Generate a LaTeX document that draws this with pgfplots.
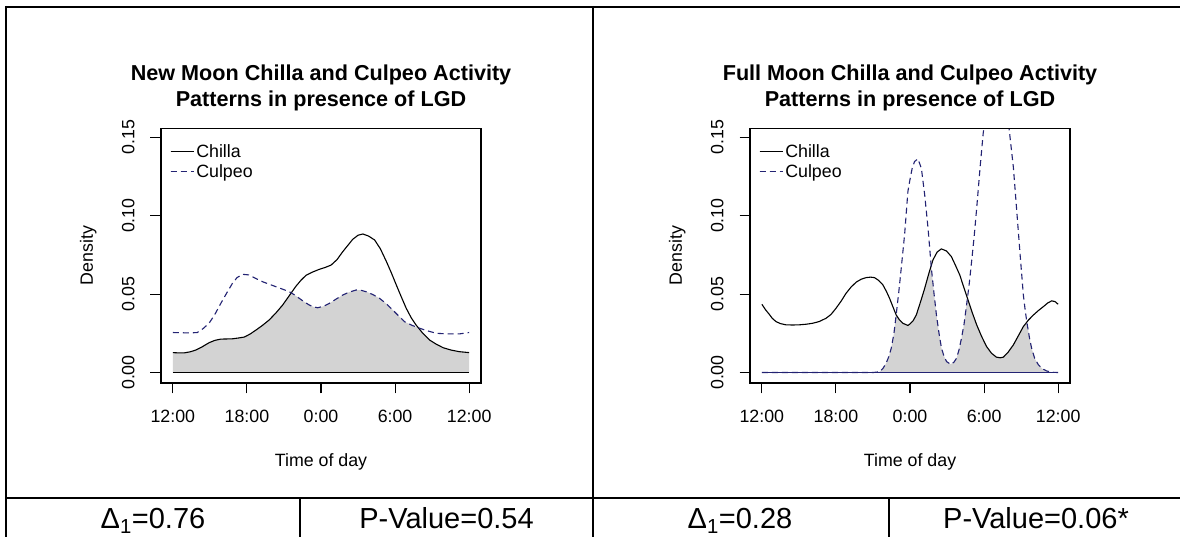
\documentclass[border=0pt]{standalone}
\usepackage{pgfplots}
\pgfplotsset{compat=1.18}
\usepackage{fontspec}
\setmainfont{Liberation Sans}
\definecolor{culpeo}{RGB}{35,35,115}
\definecolor{olap}{RGB}{211,211,211}
\newcommand{\basefont}{\fontsize{17.8}{21}\selectfont}
\newcommand{\titlefont}{\fontsize{21.6}{26.3}\selectfont\bfseries}
\newcommand{\cellfont}{\fontsize{29}{34}\selectfont}
\tikzset{axisticks/.style={draw=black, line width=1.1pt}}

\pgfplotsset{
  moonaxis/.style={
    scale only axis, width=320pt, height=254.5pt,
    anchor=south west, clip mode=individual, axis on top,
    xmin=-0.96, xmax=24.96, ymin=-0.0066, ymax=0.1556,
    xtick={0,6,12,18,24}, xticklabels={12:00,18:00,0:00,6:00,12:00},
    ytick={0,0.05,0.1,0.15}, yticklabels={0.00,0.05,0.10,0.15},
    minor tick num=0,
    tick align=outside, xtick pos=bottom, ytick pos=left,
    major tick length=10.5pt,
    every tick/.style={draw=black, line width=1.1pt},
    axis line style={line width=1.3pt, black},
    ticklabel style={font=\basefont},
    xticklabel style={anchor=north, inner sep=0pt},
    yticklabel style={rotate=90, anchor=south, inner sep=0pt},
    xticklabel shift=16.6pt, yticklabel shift=15.8pt,
    xlabel={Time of day}, ylabel={Density},
    label style={font=\basefont, inner sep=0pt},
    xlabel style={at={(axis description cs:0.5,-0.330)}, anchor=base},
    ylabel style={at={(axis description cs:-0.2128,0.5)}, anchor=base},
    title style={align=center, font=\titlefont, at={(axis description cs:0.5,1.0428)}, anchor=south, inner sep=0pt},
    legend style={at={(axis description cs:0.028,0.945)}, anchor=north west, draw=none, fill=none, font=\basefont, inner sep=0pt, row sep=1.5pt},
    legend cell align=left,
    legend image code/.code={\draw[##1] (0pt,0pt) -- (17pt,0pt); \path (0pt,0pt) -- (23pt,0pt);},
    chilla/.style={black, line width=1.1pt},
    culpeoline/.style={culpeo, line width=1.1pt, dash pattern=on 6pt off 4pt},
  }
}
% tick marks along the axis frame (outside, below and left)
\newcommand{\rticks}{%
  \pgfplotsinvokeforeach{0,6,12,18,24}{\draw[axisticks] (axis cs:##1,-0.0066) -- ++(0pt,-10.5pt);}%
  \pgfplotsinvokeforeach{0,0.05,0.1,0.15}{\draw[axisticks] (axis cs:-0.96,##1) -- ++(-10.5pt,0pt);}%
}

\begin{document}
\begin{tikzpicture}
\useasboundingbox (0pt,0pt) rectangle (1180pt,537pt);
\fill[white] (0pt,0pt) rectangle (1180pt,537pt);

% ---------------- New Moon ----------------
\begin{axis}[moonaxis, at={(161pt,154.1pt)},
  title={New Moon Chilla and Culpeo Activity\\Patterns in presence of LGD}]
\addplot[draw=none, fill=olap, forget plot] coordinates {
(0,0) (0,0.0127) (0.5,0.0125) (0.9,0.0125) (1.4,0.0132) (1.85,0.0143) (2.4,0.0165) (2.93,0.019) (3.4,0.0205) (3.88,0.0213) (4.83,0.0215) (5.3,0.022) (5.78,0.0226) (6.25,0.0245) (6.72,0.027) (7.25,0.030) (7.8,0.0335) (8.35,0.038) (8.89,0.043) (9.43,0.049) (9.6,0.0508) (9.85,0.0495) (10.24,0.0473) (10.65,0.045) (11.06,0.043) (11.4,0.0418) (11.73,0.0413) (12.2,0.0422) (12.68,0.0441) (13.2,0.0467) (13.76,0.0494) (14.3,0.0513) (14.85,0.0526) (15.25,0.0524) (15.66,0.0515) (16.2,0.0497) (16.74,0.0473) (17.3,0.0438) (17.82,0.0398) (18.3,0.036) (18.77,0.0324) (19.4,0.030) (19.9,0.0284) (20.25,0.025) (20.8,0.0207) (21.35,0.018) (21.9,0.0158) (22.55,0.0143) (23.2,0.0133) (24,0.0127) (24,0)
} \closedcycle;
\addplot[black, line width=1pt, forget plot] coordinates {(0,0) (24,0)};
\addplot[chilla] coordinates {
(0,0.0127) (0.5,0.0125) (0.9,0.0125) (1.4,0.0132) (1.85,0.0143) (2.4,0.0165) (2.93,0.019) (3.4,0.0205) (3.88,0.0213) (4.83,0.0215) (5.3,0.022) (5.78,0.0226) (6.25,0.0245) (6.72,0.027) (7.25,0.030) (7.8,0.0335) (8.35,0.038) (8.89,0.043) (9.43,0.049) (9.97,0.055) (10.4,0.059) (10.79,0.062) (11.3,0.064) (11.87,0.0658) (12.35,0.067) (12.82,0.0685) (13.3,0.072) (13.76,0.077) (14.17,0.081) (14.57,0.0849) (15.0,0.0875) (15.39,0.0883) (15.85,0.087) (16.34,0.0845) (16.8,0.079) (17.3,0.0707) (17.7,0.0635) (18.1,0.0558) (18.5,0.0483) (18.9,0.041) (19.3,0.035) (19.7,0.0303) (20.25,0.025) (20.8,0.0207) (21.35,0.018) (21.9,0.0158) (22.55,0.0143) (23.2,0.0133) (24,0.0127)
};
\addlegendentry{Chilla}
\addplot[culpeoline] coordinates {
(0,0.0255) (0.5,0.0254) (1,0.0253) (1.5,0.0253) (1.98,0.0255) (2.45,0.028) (2.93,0.0314) (3.4,0.037) (3.88,0.044) (4.35,0.0505) (4.83,0.0569) (5.2,0.0605) (5.64,0.0626) (6.18,0.0622) (6.7,0.060) (7.26,0.0579) (7.8,0.0563) (8.35,0.0547) (8.9,0.0531) (9.43,0.0515) (9.85,0.0495) (10.24,0.0473) (10.65,0.045) (11.06,0.043) (11.4,0.0418) (11.73,0.0413) (12.2,0.0422) (12.68,0.0441) (13.2,0.0467) (13.76,0.0494) (14.3,0.0513) (14.85,0.0526) (15.25,0.0524) (15.66,0.0515) (16.2,0.0497) (16.74,0.0473) (17.3,0.0438) (17.82,0.0398) (18.3,0.036) (18.77,0.0324) (19.4,0.030) (19.99,0.0282) (20.7,0.0264) (21.35,0.025) (22.3,0.0246) (23.2,0.0246) (24,0.0255)
};
\addlegendentry{Culpeo}
\rticks
\end{axis}

% ---------------- Full Moon ----------------
\begin{axis}[moonaxis, at={(750pt,154.1pt)},
  title={Full Moon Chilla and Culpeo Activity\\Patterns in presence of LGD}]
\addplot[draw=none, fill=olap, forget plot] coordinates {
(0,0) (9.0,0) (9.53,0.0005) (9.8,0.0025) (10.07,0.006) (10.3,0.0105) (10.48,0.0155) (10.7,0.025) (10.88,0.0367) (11.15,0.0335) (11.42,0.0314) (11.83,0.030) (11.97,0.0308) (12.25,0.033) (12.51,0.0367) (12.85,0.045) (13.19,0.0537) (13.52,0.063) (13.71,0.068) (13.95,0.050) (14.14,0.0367) (14.35,0.025) (14.55,0.0155) (14.75,0.0105) (14.96,0.007) (15.28,0.0053) (15.55,0.0065) (15.77,0.0091) (15.97,0.0145) (16.17,0.0219) (16.38,0.031) (16.58,0.043) (16.64,0.0475) (16.7,0.0463) (17.05,0.038) (17.4,0.0304) (17.8,0.023) (18.2,0.0166) (18.6,0.0123) (19.0,0.0098) (19.3,0.0094) (19.56,0.0098) (19.95,0.013) (20.37,0.0176) (20.78,0.0235) (21.18,0.0293) (21.47,0.032) (21.5,0.0304) (21.68,0.022) (21.85,0.0155) (22.1,0.009) (22.4,0.0049) (22.7,0.0025) (23.07,0.001) (23.5,0.0002) (24,0)
} \closedcycle;
\addplot[culpeo, line width=1pt, forget plot] coordinates {(0,0) (24,0)};
\addplot[chilla] coordinates {
(0,0.0435) (0.3,0.040) (0.59,0.0372) (0.85,0.0345) (1.14,0.0325) (1.5,0.0312) (1.95,0.0304) (2.5,0.0303) (3.03,0.0304) (3.6,0.0308) (4.11,0.0314) (4.65,0.0325) (5.2,0.0346) (5.6,0.037) (6.01,0.041) (6.42,0.0455) (6.82,0.0505) (7.23,0.0545) (7.64,0.0576) (8.05,0.0595) (8.45,0.0605) (8.8,0.0608) (9.12,0.0605) (9.45,0.0588) (9.8,0.0559) (10.07,0.052) (10.34,0.0474) (10.61,0.042) (10.88,0.0367) (11.15,0.0335) (11.42,0.0314) (11.83,0.030) (11.97,0.0308) (12.25,0.033) (12.51,0.0367) (12.85,0.045) (13.19,0.0537) (13.52,0.063) (13.86,0.0718) (14.2,0.0768) (14.54,0.0788) (14.95,0.0775) (15.35,0.0739) (15.7,0.068) (16.03,0.0622) (16.37,0.054) (16.7,0.0463) (17.05,0.038) (17.4,0.0304) (17.8,0.023) (18.2,0.0166) (18.6,0.0123) (19.0,0.0098) (19.3,0.0094) (19.56,0.0098) (19.95,0.013) (20.37,0.0176) (20.78,0.0235) (21.18,0.0293) (21.6,0.0335) (22.0,0.0367) (22.4,0.0395) (22.8,0.042) (23.15,0.0443) (23.48,0.0457) (23.75,0.0452) (24,0.0435)
};
\addlegendentry{Chilla}
\addplot[culpeoline] coordinates {
(0,0) (9.0,0) (9.53,0.0005) (9.8,0.0025) (10.07,0.006) (10.3,0.0105) (10.48,0.0155) (10.7,0.025) (10.88,0.0367) (11.1,0.052) (11.29,0.0665) (11.56,0.0877) (11.83,0.1154) (11.97,0.1218) (12.17,0.130) (12.37,0.1345) (12.64,0.1362) (12.92,0.1302) (13.19,0.1132) (13.46,0.092) (13.73,0.0665) (13.95,0.050) (14.14,0.0367) (14.35,0.025) (14.55,0.0155) (14.75,0.0105) (14.96,0.007) (15.28,0.0053) (15.55,0.0065) (15.77,0.0091) (15.97,0.0145) (16.17,0.0219) (16.38,0.031) (16.58,0.043) (16.79,0.056) (16.99,0.0708) (17.2,0.087) (17.4,0.1047) (17.67,0.1302) (17.93,0.1526) (18.25,0.171) (18.6,0.184) (18.9,0.19) (19.2,0.191) (19.5,0.186) (19.8,0.172) (20.05,0.1536) (20.37,0.131) (20.65,0.1026) (20.92,0.075) (21.18,0.0495) (21.34,0.039) (21.5,0.0304) (21.68,0.022) (21.85,0.0155) (22.1,0.009) (22.4,0.0049) (22.7,0.0025) (23.07,0.001) (23.5,0.0002) (24,0)
};
\addlegendentry{Culpeo}
\rticks
\end{axis}

% ---------------- table frame ----------------
\draw[line width=2pt] (5pt,530pt) -- (1181pt,530pt);
\draw[line width=2pt] (6pt,531pt) -- (6pt,-1pt);
\draw[line width=2pt] (593.3pt,531pt) -- (593.3pt,-1pt);
\draw[line width=2pt] (5pt,38.7pt) -- (1181pt,38.7pt);
\draw[line width=2pt] (300pt,38.7pt) -- (300pt,-1pt);
\draw[line width=2pt] (889pt,38.7pt) -- (889pt,-1pt);

\node[font=\cellfont, anchor=base, inner sep=0pt] at (153pt,8.5pt) {Δ\textsubscript{1}=0.76};
\node[font=\cellfont, anchor=base, inner sep=0pt] at (446.5pt,8.5pt) {P-Value=0.54};
\node[font=\cellfont, anchor=base, inner sep=0pt] at (740pt,8.5pt) {Δ\textsubscript{1}=0.28};
\node[font=\cellfont, anchor=base, inner sep=0pt] at (1036pt,8.5pt) {P-Value=0.06*};
\end{tikzpicture}
\end{document}
